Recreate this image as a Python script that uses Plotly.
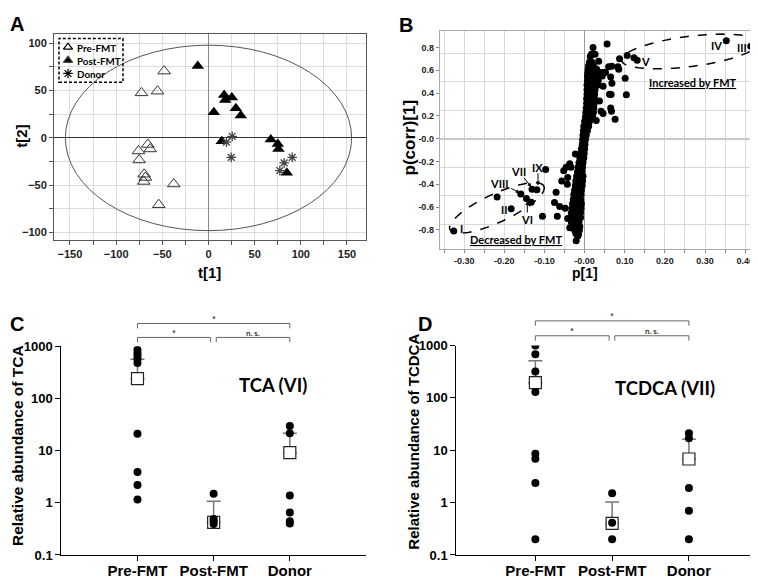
import math
import plotly.graph_objects as go

W, H = 758, 579
AR = "Liberation Sans"
LT = "Lato"

# ---------------- Panel A : score plot ----------------
pre_t1 = [-48.0, -72.6, -55.2, -65.7, -63.2, -75.8, -75.1, -69.7, -68.3, -70.1, -37.6, -53.8]
pre_t2 = [70.6, 47.6, 49.4, -6.9, -11.7, -13.8, -23.3, -38.4, -41.8, -46.0, -48.7, -70.6]
post_t1 = [-11.6, 17.0, 18.1, 25.3, 5.8, 29.6, 35.0, 14.4, 67.5, 75.1, 75.8, 84.8]
post_t2 = [76.0, 45.3, 40.0, 42.8, 27.0, 31.3, 23.7, -3.4, -1.7, -6.5, -11.6, -36.7]
donor_t1 = [25.7, 19.5, 24.6, 90.7, 82.0, 77.3]
donor_t2 = [1.7, -4.5, -20.6, -20.6, -26.4, -34.6]
a_xticks = [-150, -100, -50, 0, 50, 100, 150]
a_yticks = [-100, -50, 0, 50, 100]
legend_labels = ["Pre-FMT", "Post-FMT", "Donor"]

# ---------------- Panel B : S-plot ----------------
band_rows = [
    (-0.83, [-0.022, -0.016]),
    (-0.80, [-0.025, -0.019, -0.013]),
    (-0.77, [-0.030, -0.024, -0.018, -0.012]),
    (-0.73, [-0.033, -0.027, -0.021, -0.014]),
    (-0.69, [-0.034, -0.028, -0.022, -0.015, -0.010]),
    (-0.65, [-0.033, -0.027, -0.021, -0.015, -0.010]),
    (-0.61, [-0.031, -0.025, -0.019, -0.013, -0.009]),
    (-0.57, [-0.030, -0.024, -0.018, -0.012, -0.008]),
    (-0.53, [-0.028, -0.022, -0.016, -0.010]),
    (-0.49, [-0.027, -0.021, -0.015, -0.009]),
    (-0.45, [-0.025, -0.019, -0.013, -0.008]),
    (-0.41, [-0.023, -0.017, -0.011, -0.006]),
    (-0.37, [-0.022, -0.016, -0.010, -0.005]),
    (-0.33, [-0.020, -0.014, -0.008, -0.004]),
    (-0.29, [-0.018, -0.012, -0.006]),
    (-0.25, [-0.016, -0.010, -0.005]),
    (-0.21, [-0.014, -0.009, -0.004]),
    (-0.17, [-0.012, -0.007, -0.002]),
    (-0.13, [-0.010, -0.005, -0.001]),
    (-0.09, [-0.008, -0.004, 0.000]),
    (-0.05, [-0.006, -0.002, 0.001]),
    (-0.01, [-0.005, -0.001, 0.002]),
    (0.03, [-0.004, 0.000, 0.004]),
    (0.07, [-0.003, 0.002, 0.007]),
    (0.11, [-0.002, 0.004, 0.010]),
    (0.15, [0.000, 0.006, 0.012]),
    (0.19, [0.002, 0.008, 0.014, 0.020]),
    (0.23, [0.003, 0.009, 0.015, 0.022]),
    (0.27, [0.004, 0.010, 0.016, 0.023]),
    (0.31, [0.005, 0.011, 0.017, 0.024]),
    (0.35, [0.005, 0.011, 0.018, 0.025]),
    (0.39, [0.006, 0.012, 0.018, 0.025]),
    (0.43, [0.006, 0.012, 0.019, 0.026]),
    (0.47, [0.006, 0.012, 0.019, 0.026, 0.033]),
    (0.51, [0.007, 0.013, 0.020, 0.027, 0.034]),
    (0.55, [0.007, 0.014, 0.021, 0.028, 0.036, 0.044]),
    (0.58, [0.008, 0.015, 0.022, 0.030, 0.038, 0.046, 0.052]),
    (0.61, [0.009, 0.015, 0.022, 0.030]),
    (0.64, [0.010, 0.016, 0.022]),
    (0.67, [0.012, 0.018]),
]
up_x = [0.021, 0.056, 0.014, 0.026, 0.035, 0.060, 0.068, 0.085, 0.087, 0.101, 0.104,
        0.065, 0.068, 0.046, 0.062, 0.037, 0.065, 0.067, 0.041, 0.076, 0.029, 0.046,
        0.106, 0.123, 0.131, 0.353, 0.414, 0.017, 0.083, 0.066]
up_y = [0.80, 0.83, 0.72, 0.74, 0.68, 0.63, 0.635, 0.61, 0.70, 0.53, 0.385,
        0.54, 0.487, 0.46, 0.39, 0.33, 0.27, 0.24, 0.24, 0.17, 0.16, 0.22,
        0.73, 0.709, 0.687, 0.858, 0.81, 0.74, 0.63, 0.387]
low_x = [-0.326, -0.183, -0.218, -0.159, -0.145, -0.133, -0.131, -0.119, -0.097, -0.105,
         -0.068, -0.071, -0.075, -0.062, -0.057, -0.043, -0.042, -0.052, -0.037, -0.023,
         -0.034, -0.048, -0.042, -0.037, -0.017, -0.0155, -0.021, -0.046]
low_y = [-0.81, -0.615, -0.51, -0.484, -0.524, -0.558, -0.444, -0.447, -0.27, -0.68,
         -0.68, -0.47, -0.56, -0.595, -0.37, -0.40, -0.34, -0.28, -0.22, -0.134,
         -0.25, -0.61, -0.70, -0.78, -0.852, -0.84, -0.895, -0.25]
b_xticks = [-0.3, -0.2, -0.1, 0.0, 0.1, 0.2, 0.3, 0.4]
b_xtext = ["-0.30", "-0.20", "-0.10", "-0.00", "0.10", "0.20", "0.30", "0.40"]
b_yticks = [-0.8, -0.6, -0.4, -0.2, 0.0, 0.2, 0.4, 0.6, 0.8]
b_ytext = ["-0.8", "-0.6", "-0.4", "-0.2", "-0.0", "0.2", "0.4", "0.6", "0.8"]

# ---------------- Panels C / D : dot plots ----------------
groups = ["Pre-FMT", "Post-FMT", "Donor"]
pre_tca = [850, 730, 650, 560, 475, 21, 3.9, 2.2, 1.15]
post_tca = [1.48, 0.49, 0.44, 0.39]
donor_tca = [29.5, 21.5, 1.38, 0.65, 0.44, 0.40]
mean_tca = [239, 0.42, 9.1]
upper_tca = [565, 1.07, 21.5]

pre_tcdca = [1000, 680, 318, 130, 8.6, 6.9, 2.37, 0.2]
post_tcdca = [1.5, 0.41, 0.2]
donor_tcdca = [21, 17, 1.9, 0.70, 0.2]
mean_tcdca = [195, 0.40, 6.8]
upper_tcdca = [509, 1.03, 16.2]

log_ticks = [0.1, 1, 10, 100, 1000]
log_text = ["0.1", "1", "10", "100", "1000"]

# ---------------- geometry ----------------
dom = {
    'A': ((46, 358), (20, 231)),
    'B': ((431.7, 750), (16.7, 240)),
    'C': ((53.3, 358), (340, 554.3)),
    'D': ((448.3, 750), (339.3, 554.3)),
}
rng = {
    'A': ([-167.3, 170.6], [-107.9, 109.3]),
    'B': ([-0.361, 0.432], [-0.965, 0.942]),
    'C': ([-1, 3], [-1, 3]),
    'D': ([-1.03, 2.9], [-1, 3]),
}


def xd(k):
    a, b = dom[k][0]
    return [a / W, b / W]


def yd(k):
    t, b = dom[k][1]
    return [1 - b / H, 1 - t / H]


def X(px):
    return px / W


def Y(py):
    return 1 - py / H


def cat_px(k, i):
    (a, b), xr = dom[k][0], rng[k][0]
    return a + (i - xr[0]) / (xr[1] - xr[0]) * (b - a)


fig = go.Figure()

# ----- A -----
fig.add_trace(go.Scatter(x=pre_t1, y=pre_t2, mode='markers', xaxis='x', yaxis='y',
                         marker=dict(symbol='triangle-up-open', size=11, color='#333',
                                     line=dict(width=1))))
fig.add_trace(go.Scatter(x=post_t1, y=post_t2, mode='markers', xaxis='x', yaxis='y',
                         marker=dict(symbol='triangle-up', size=11, color='black')))
fig.add_trace(go.Scatter(x=donor_t1, y=donor_t2, mode='markers', xaxis='x', yaxis='y',
                         marker=dict(symbol='asterisk-open', size=8, color='#444',
                                     line=dict(width=1.3))))

# legend keys on a pixel overlay axis
leg_sym = ['triangle-up-open', 'triangle-up', 'asterisk-open']
for j, s in enumerate(leg_sym):
    fig.add_trace(go.Scatter(x=[60], y=[33 + 13.5 * j], mode='markers', xaxis='x5', yaxis='y5',
                             marker=dict(symbol=s, size=8, color='black',
                                         line=dict(width=1.2))))

# ----- B -----
bx, by = [], []
for yv, xs in band_rows:
    for xv in xs:
        bx.append(xv)
        by.append(yv)
fig.add_trace(go.Scatter(x=bx + up_x + low_x, y=by + up_y + low_y, mode='markers',
                         xaxis='x2', yaxis='y2', marker=dict(size=7, color='black')))


# ----- C / D -----
def dots(ax, pre, post, donor, mean, upper):
    fig.add_trace(go.Scatter(x=[0, 1, 2], y=mean, mode='markers', xaxis='x' + ax, yaxis='y' + ax,
                             marker=dict(symbol='square', size=12, color='white',
                                         line=dict(width=1.2, color='#222')),
                             error_y=dict(type='data', symmetric=False,
                                          array=[u - m for u, m in zip(upper, mean)],
                                          arrayminus=[0, 0, 0], color='#777',
                                          thickness=1.5, width=7)))
    xs = [0] * len(pre) + [1] * len(post) + [2] * len(donor)
    fig.add_trace(go.Scatter(x=xs, y=pre + post + donor, mode='markers',
                             xaxis='x' + ax, yaxis='y' + ax,
                             marker=dict(size=8, color='black')))


dots('3', pre_tca, post_tca, donor_tca, mean_tca, upper_tca)
dots('4', pre_tcdca, post_tcdca, donor_tcdca, mean_tcdca, upper_tcdca)

bold = 'bold'
lay = dict(
    width=W, height=H, margin=dict(l=0, r=0, t=0, b=0),
    paper_bgcolor='white', plot_bgcolor='rgba(0,0,0,0)', showlegend=False,
    xaxis=dict(domain=xd('A'), range=rng['A'][0], anchor='y', tickvals=a_xticks,
               ticks='outside', ticklen=4, tickcolor='#555',
               tickfont=dict(family=AR, size=11, weight=bold, color='#222'),
               showline=True, mirror=True, linecolor='#555', linewidth=1,
               showgrid=True, gridcolor='#dcdcdc', zeroline=True, zerolinecolor='#888',
               zerolinewidth=1,
               minor=dict(dtick=25, tick0=0, showgrid=True, gridcolor='#dcdcdc',
                          ticks='outside', ticklen=4, tickcolor='#555')),
    yaxis=dict(domain=yd('A'), range=rng['A'][1], anchor='x', tickvals=a_yticks,
               ticks='outside', ticklen=4, tickcolor='#555',
               tickfont=dict(family=AR, size=11, weight=bold, color='#222'),
               showline=True, mirror=True, linecolor='#555', linewidth=1,
               showgrid=True, gridcolor='#dcdcdc', zeroline=True, zerolinecolor='#333',
               zerolinewidth=1,
               minor=dict(dtick=25, tick0=0, showgrid=True, gridcolor='#dcdcdc',
                          ticks='outside', ticklen=4, tickcolor='#555')),
    xaxis2=dict(domain=xd('B'), range=rng['B'][0], anchor='y2', tickvals=b_xticks,
                ticktext=b_xtext, ticks='outside', ticklen=3, tickcolor='#888',
                tickfont=dict(family=AR, size=9, weight=bold, color='#222'),
                showline=True, mirror=True, linecolor='#aaa', linewidth=1,
                showgrid=True, gridcolor='#d8d8d8', zeroline=True, zerolinecolor='#999',
                zerolinewidth=1.2,
                minor=dict(dtick=0.05, tick0=0, showgrid=True, gridcolor='#d8d8d8',
                           ticks='outside', ticklen=3, tickcolor='#888')),
    yaxis2=dict(domain=yd('B'), range=rng['B'][1], anchor='x2', tickvals=b_yticks,
                ticktext=b_ytext, ticks='outside', ticklen=3, tickcolor='#888',
                tickfont=dict(family=AR, size=9, weight=bold, color='#222'),
                showline=True, mirror=True, linecolor='#aaa', linewidth=1,
                showgrid=False, zeroline=True, zerolinecolor='#c8c8c8', zerolinewidth=2,
                minor=dict(dtick=0.25, tick0=0, showgrid=True, gridcolor='#d8d8d8')),
    xaxis5=dict(domain=[0, 1], range=[0, W], anchor='y5', visible=False, fixedrange=True),
    yaxis5=dict(domain=[0, 1], range=[H, 0], anchor='x5', visible=False, fixedrange=True),
)
for k, ax in (('C', '3'), ('D', '4')):
    lay['xaxis' + ax] = dict(domain=xd(k), range=rng[k][0], anchor='y' + ax,
                             tickvals=[0, 1, 2], ticktext=groups, ticks='outside', ticklen=5,
                             tickcolor='black', ticklabelstandoff=-3,
                             tickfont=dict(family=AR, size=15, weight=bold, color='black'),
                             showline=True, linecolor='black', linewidth=1,
                             showgrid=False, zeroline=False)
    lay['yaxis' + ax] = dict(domain=yd(k), range=rng[k][1], type='log', anchor='x' + ax,
                             tickvals=log_ticks, ticktext=log_text, ticks='outside',
                             ticklen=5, tickcolor='black',
                             tickfont=dict(family=AR, size=13, weight=bold, color='black'),
                             showline=True, linecolor='black', linewidth=1,
                             showgrid=False, zeroline=False)
fig.update_layout(**lay)

shapes = []
ann = []


def text(px, py, s, size, fam=AR, angle=0, color='black', xanchor='center'):
    ann.append(dict(x=X(px), y=Y(py), xref='paper', yref='paper', text=s, showarrow=False,
                    xanchor=xanchor, yanchor='middle', textangle=angle,
                    font=dict(family=fam, size=size, color=color, weight='bold')))


# ellipse A (Hotelling T2)
shapes.append(dict(type='circle', xref='x', yref='y', x0=-155, x1=155, y0=-98, y1=98,
                   line=dict(color='#555', width=1)))
# legend box A
shapes.append(dict(type='rect', xref='paper', yref='paper', x0=X(51), x1=X(115), y0=Y(69), y1=Y(24),
                   line=dict(color='black', width=1.5, dash='3px,2px'), fillcolor='rgba(0,0,0,0)'))
for j, lab in enumerate(legend_labels):
    text(66.5, 33.5 + 13.5 * j, lab, 9.8, fam=LT, xanchor='left')


# ellipses B
def ell_path(cx, cy, a_px, b_px, ang):
    (xa, xb), (yt, yb) = dom['B']
    xr, yr = rng['B']
    xppu = (xb - xa) / (xr[1] - xr[0])
    yppu = (yb - yt) / (yr[1] - yr[0])
    th = math.radians(ang)
    pts = []
    for i in range(73):
        t = 2 * math.pi * i / 72
        dx = a_px * math.cos(t) * math.cos(th) - b_px * math.sin(t) * math.sin(th)
        dy = a_px * math.cos(t) * math.sin(th) + b_px * math.sin(t) * math.cos(th)
        pts.append("%.5f,%.5f" % (cx + dx / xppu, cy + dy / yppu))
    return "M " + " L ".join(pts) + " Z"


shapes.append(dict(type='path', xref='x2', yref='y2', path=ell_path(0.262, 0.765, 69, 15.5, 7.5),
                   line=dict(color='black', width=1.5, dash='dash')))
shapes.append(dict(type='path', xref='x2', yref='y2', path=ell_path(-0.2185, -0.607, 52, 14.5, 25.5),
                   line=dict(color='black', width=1.5, dash='dash')))

# B labels
for px, py, s in [(708, 31.7, 'IV'), (733.5, 33.3, 'III'), (637.5, 48, 'V'), (453.3, 219, 'I'),
                  (496, 199.3, 'II'), (491, 173.3, 'VIII'), (510.7, 160.7, 'VII'),
                  (529.3, 156.7, 'IX'), (519.3, 210, 'VI')]:
    text(px, py, s, 11, fam=LT)
text(685, 69.3, '<u>Increased by FMT</u>', 11, fam=LT)
text(508.3, 230, '<u>Decreased by FMT</u>', 11, fam=LT)
for (tx, ty), (hx, hy) in [((501.7, 177.3), (511.7, 182.7)), ((515, 166), (523.3, 176.7)),
                           ((530, 161.5), (530, 175)), ((519.3, 204), (519.3, 191))]:
    ann.append(dict(x=X(hx), y=Y(hy), xref='paper', yref='paper', text='', showarrow=True,
                    ax=tx - hx, ay=ty - hy, arrowhead=2, arrowsize=0.8, arrowwidth=1,
                    arrowcolor='black'))


# brackets C / D
def bracket(k, i0, i1, py, off0=0, off1=0, tick=5):
    x0 = cat_px(k, i0) + off0
    x1 = cat_px(k, i1) + off1
    shapes.append(dict(type='path', xref='paper', yref='paper',
                       path="M %f,%f L %f,%f L %f,%f L %f,%f" % (
                           X(x0), Y(py + tick), X(x0), Y(py), X(x1), Y(py), X(x1), Y(py + tick)),
                       line=dict(color='#666', width=1)))
    return (x0 + x1) / 2


for k, top, low in (('C', 316.7, 331), ('D', 314, 329.3)):
    m = bracket(k, 0, 2, top)
    text(m, top - 4, '*', 9, fam=LT, color='#333')
    m = bracket(k, 0, 1, low, 0, -3)
    text(m, low - 4, '*', 9, fam=LT, color='#333')
    m = bracket(k, 1, 2, low, 2.6, 0)
    text(m, low - 5, 'n. s.', 8, fam=LT, color='#333')

text(265, 380, 'TCA (VI)', 18.5, fam=LT)
text(656.7, 383.3, 'TCDCA (VII)', 18.5, fam=LT)

# axis titles
text(201, 264, 't[1]', 15)
text(14, 125, 't[2]', 15, angle=-90)
text(577, 265, 'p[1]', 14)
text(401.7, 126, 'p(corr)[1]', 17, angle=-90)
text(9, 442.5, 'Relative abundance of TCA', 15.5, angle=-90)
text(406, 438, 'Relative abundance of TCDCA', 15, angle=-90)

# panel letters
text(9, 9.5, 'A', 20)
text(398.3, 10, 'B', 20)
text(9, 317.5, 'C', 20)
text(416.7, 317, 'D', 20)

fig.update_layout(shapes=shapes, annotations=ann)
fig.write_html("out.html")
